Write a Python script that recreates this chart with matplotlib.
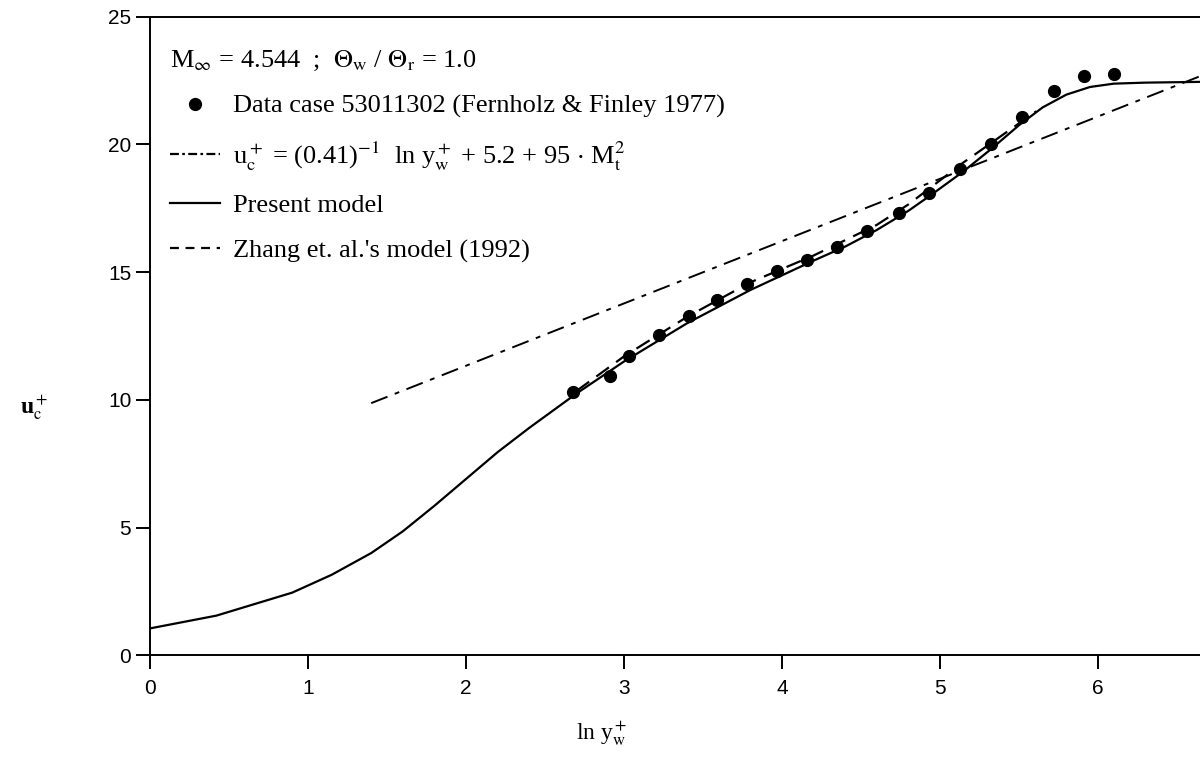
import matplotlib
matplotlib.use("Agg")
import matplotlib.pyplot as plt
from matplotlib.lines import Line2D

plt.rcParams['mathtext.fontset'] = 'stix'
plt.rcParams['font.family'] = ['Liberation Serif', 'DejaVu Serif']

# --- data ---
# measured points (Fernholz & Finley 1977, case 53011302)
data_x = [2.68, 2.91, 3.03, 3.22, 3.41, 3.59, 3.78, 3.97, 4.16, 4.35,
          4.54, 4.74, 4.93, 5.13, 5.32, 5.52, 5.72, 5.91, 6.10]
data_y = [10.31, 10.94, 11.73, 12.52, 13.27, 13.90, 14.53, 15.04, 15.47, 15.98,
          16.61, 17.32, 18.11, 19.02, 20.00, 21.06, 22.09, 22.68, 22.76]

# present model
model_x = [0.0, 0.42, 0.9, 1.15, 1.4, 1.6, 1.8, 2.0, 2.2, 2.4, 2.7, 3.0, 3.4,
           3.8, 4.2, 4.4, 4.6, 4.8, 4.95, 5.15, 5.32, 5.5, 5.65, 5.8, 5.95,
           6.1, 6.3, 6.65]
model_y = [1.05, 1.55, 2.45, 3.15, 4.0, 4.85, 5.85, 6.9, 7.95, 8.9, 10.25, 11.5, 13.0,
           14.3, 15.45, 16.0, 16.65, 17.4, 18.05, 18.95, 19.8, 20.75, 21.45, 21.95, 22.25,
           22.38, 22.42, 22.45]

# Zhang et al. (1992) model
zhang_x = [2.7, 3.0, 3.4, 3.8, 4.2, 4.6, 4.8, 4.97, 5.15, 5.3, 5.46, 5.61]
zhang_y = [10.35, 11.7, 13.25, 14.6, 15.65, 16.85, 17.65, 18.45, 19.3, 19.95, 20.65, 21.3]

# log law with compressibility correction
loglaw_x = [1.4, 6.65]
loglaw_y = [9.87, 22.68]

fig = plt.figure(figsize=(12, 7.61), dpi=100)
ax = fig.add_axes([0.125, 0.139, 0.875, 0.839])

ax.plot(model_x, model_y, '-', color='black', lw=1.6)
ax.plot(zhang_x, zhang_y, color='black', lw=1.6, dashes=(7, 4))
ax.plot(loglaw_x, loglaw_y, color='black', lw=1.4, dashes=(9, 4, 2.5, 4))
ax.plot(data_x, data_y, 'o', color='black', ms=8.5)

ax.set_xlim(0, 6.646)
ax.set_ylim(0, 25)
ax.set_xticks([0, 1, 2, 3, 4, 5, 6])
ax.set_yticks([0, 5, 10, 15, 20, 25])
ax.spines['right'].set_visible(False)
for s in ['left', 'bottom', 'top']:
    ax.spines[s].set_linewidth(1.4)
ax.tick_params(direction='out', length=10, width=1.4, labelsize=15)
for lab in ax.get_xticklabels() + ax.get_yticklabels():
    lab.set_fontfamily('Liberation Sans')
ax.tick_params(axis='x', pad=7)

ax.set_xlabel(r'ln y$_\mathrm{w}^+$', fontsize=17)
ax.xaxis.set_label_coords(0.43, -0.10)
ax.set_ylabel(r'u$_\mathrm{c}^+$', fontsize=17, rotation=0, fontweight='bold')
ax.yaxis.set_label_coords(-0.11, 0.365)

handles = [
    Line2D([], [], ls='none', marker='o', color='black', ms=8.5),
    Line2D([], [], color='black', lw=1.6, dashes=(4, 1.5, 1.2, 1.5)),
    Line2D([], [], color='black', lw=1.6),
    Line2D([], [], color='black', lw=1.6, dashes=(4, 3)),
]
labels = [
    'Data case 53011302 (Fernholz & Finley 1977)',
    r'u$_\mathrm{c}^+$ = (0.41)$^{-1}$  ln y$_\mathrm{w}^+$ + 5.2 + 95 $\cdot$ M$_\mathrm{t}^2$',
    'Present model',
    "Zhang et. al.'s model (1992)",
]
leg = ax.legend(handles, labels, loc='upper left', bbox_to_anchor=(0.0, 0.98),
                frameon=False, fontsize=19,
                title=r'M$_\infty$ = 4.544  ;  $\Theta_\mathrm{w}$ / $\Theta_\mathrm{r}$ = 1.0',
                title_fontsize=19, alignment='left', handlelength=1.9,
                handletextpad=0.5, labelspacing=0.8, borderaxespad=0.25,
                borderpad=0.5)

fig.savefig('out.png', dpi=100)
